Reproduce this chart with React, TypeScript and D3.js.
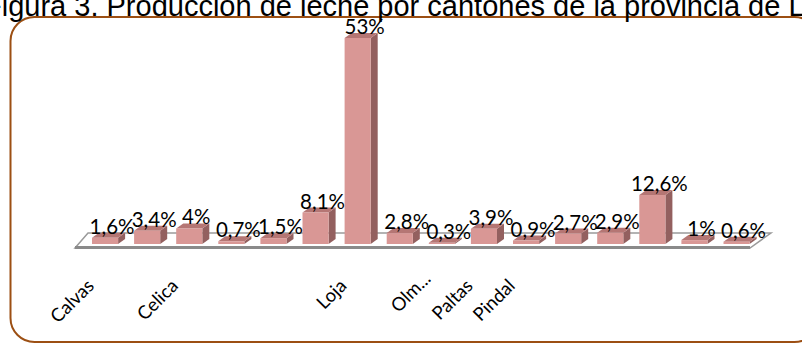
import React from "react";
import * as d3 from "d3";

const title = "Figura 3. Producción de leche por cantones de la provincia de Loja";
const categories = ["Calvas","Catamayo","Celica","Chaguarpamba","Espíndola","Gonzanamá","Loja","Macará","Olmedo","Paltas","Pindal","Puyango","Quilanga","Saraguro","Sozoranga","Zapotillo"];
const tickLabels = ["Calvas","","Celica","","","","Loja","","Olm...","Paltas","Pindal","","","","",""];
const values = [1.6, 3.4, 4, 0.7, 1.5, 8.1, 53, 2.8, 0.3, 3.9, 0.9, 2.7, 2.9, 12.6, 1, 0.6];
const valueLabels = ["1,6%","3,4%","4%","0,7%","1,5%","8,1%","53%","2,8%","0,3%","3,9%","0,9%","2,7%","2,9%","12,6%","1%","0,6%"];

const W = 802, H = 345;
const DX = 7, DY = -5;

export default function App() {
  const x = d3.scaleBand<string>().domain(categories).range([84, 757.6]).paddingInner(0.38).paddingOuter(0.19);
  const y = d3.scaleLinear().domain([0, 53]).range([244, 38]);
  const bw = x.bandwidth();
  const floor = "M75,248 L88,233 L771,233 L750,248 Z";
  return (
    <svg width={W} height={H} style={{ position: "absolute", left: 0, top: 0 }}>
      <rect x={0} y={0} width={W} height={H} fill="#fff" />
      <rect x={10.5} y={17} width={808} height={325} rx={24} ry={24} fill="none" stroke="#9C4F13" strokeWidth={2} />
      <text x={-16} y={16} fontFamily="Liberation Sans, Arial, sans-serif" fontSize={29} fill="#000">{title}</text>
      <path d={floor} fill="#fff" stroke="#9a9a9a" strokeWidth={1.5} />
      <rect x={75} y={246} width={675} height={3} fill="#8a8a8a" />
      {categories.map((c, i) => {
        const x0 = x(c)!;
        const x1 = x0 + bw;
        const yt = y(values[i]);
        const yb = y(0);
        return (
          <g key={c}>
            <polygon points={`${x1},${yb} ${x1 + DX},${yb + DY} ${x1 + DX},${yt + DY} ${x1},${yt}`} fill="#93605F" />
            <polygon points={`${x0},${yt} ${x0 + DX},${yt + DY} ${x1 + DX},${yt + DY} ${x1},${yt}`} fill="#B57674" />
            <rect x={x0} y={yt} width={bw} height={yb - yt} fill="#D99795" />
          </g>
        );
      })}
      {categories.map((c, i) => (
        <text key={"v" + c} x={x(c)! + bw / 2 + DX} y={y(values[i]) - 4} textAnchor="middle"
          fontFamily="Lato, sans-serif" fontSize={20.5} fill="#000">{valueLabels[i]}</text>
      ))}
      {categories.map((c, i) => tickLabels[i] ? (
        <text key={"t" + c} transform={`translate(${x(c)! + bw / 2 - 10},${i === 8 ? 280 : 287}) rotate(-45)`}
          textAnchor="end" fontFamily="Lato, sans-serif" fontSize={18.5} fill="#000">{tickLabels[i]}</text>
      ) : null)}
    </svg>
  );
}
